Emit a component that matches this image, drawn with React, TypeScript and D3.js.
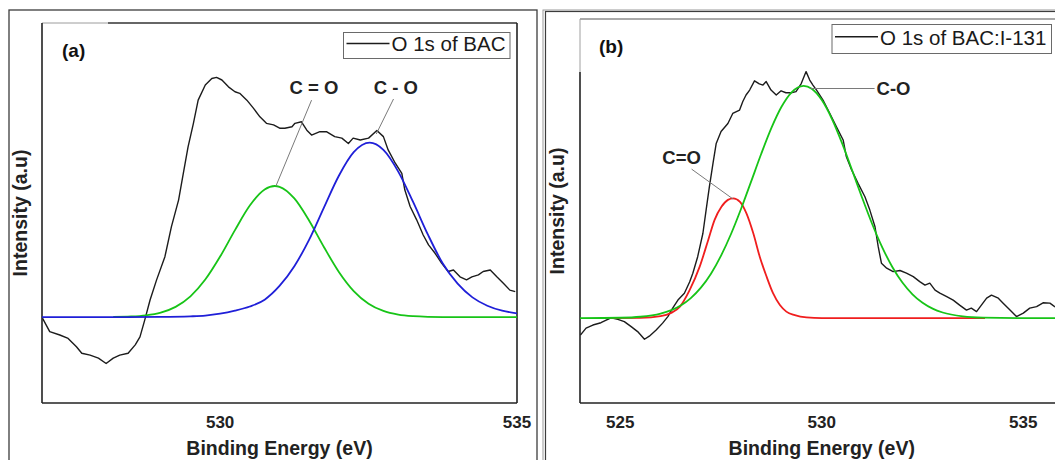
import React from 'react';
import * as d3 from 'd3';

// ---------- Panel (a): O 1s of BAC ----------
const energyA = [527.01, 527.13, 527.30, 527.44, 527.58, 527.67, 527.81, 527.95, 528.08, 528.20, 528.31, 528.45, 528.57, 528.65, 528.73, 528.82, 528.93, 529.07, 529.18, 529.30, 529.38, 529.46, 529.55, 529.63, 529.75, 529.86, 529.94, 530.03, 530.14, 530.25, 530.33, 530.45, 530.56, 530.67, 530.78, 530.90, 531.01, 531.09, 531.21, 531.26, 531.37, 531.46, 531.54, 531.68, 531.79, 531.93, 532.05, 532.16, 532.24, 532.36, 532.50, 532.64, 532.75, 532.83, 532.95, 533.06, 533.11, 533.20, 533.31, 533.42, 533.51, 533.62, 533.73, 533.84, 533.93, 534.04, 534.15, 534.24, 534.35, 534.43, 534.55, 534.66, 534.77, 534.88, 534.97];
const intensityA = [22.3, 18.8, 17.9, 17.0, 14.8, 13.1, 12.6, 11.8, 10.4, 11.8, 12.6, 13.1, 15.3, 17.4, 21.8, 27.1, 32.4, 38.5, 46.4, 53.4, 60.4, 67.4, 73.6, 79.7, 83.7, 85.4, 85.7, 85.0, 83.2, 81.9, 81.5, 79.7, 77.6, 75.3, 73.6, 73.2, 72.3, 72.3, 72.7, 73.6, 74.0, 71.8, 70.5, 71.4, 71.4, 70.1, 69.7, 68.3, 69.7, 69.2, 69.7, 71.7, 70.1, 66.6, 63.1, 60.4, 56.1, 51.7, 48.2, 44.2, 41.6, 39.4, 36.8, 34.6, 35.0, 33.2, 32.4, 33.2, 33.7, 34.6, 35.0, 33.2, 31.5, 29.7, 29.3];

// fitted C=O component (green)
const fitEnergyA_CdO = [528.2, 528.5, 528.75, 529.0, 529.25, 529.5, 529.75, 530.0, 530.25, 530.5, 530.75, 530.92, 531.0, 531.25, 531.5, 531.75, 532.0, 532.25, 532.5, 532.75, 533.0, 533.25, 533.5, 534.0, 535.0];
const fitValueA_CdO = [22.64, 22.76, 23.07, 23.79, 25.3, 28.07, 32.48, 38.53, 45.5, 51.97, 56.2, 57.1, 56.9, 53.83, 47.97, 40.99, 34.49, 29.46, 26.13, 24.22, 23.26, 22.84, 22.68, 22.6, 22.6];

// fitted C-O component (blue)
const fitEnergyA_CO = [527.0, 528.0, 529.0, 529.5, 529.75, 530.0, 530.25, 530.5, 530.75, 531.0, 531.25, 531.5, 531.75, 532.0, 532.25, 532.52, 532.75, 533.0, 533.25, 533.5, 533.75, 534.0, 534.25, 534.5, 534.75, 535.0];
const fitValueA_CO = [22.6, 22.6, 22.65, 22.8, 23.0, 23.5, 24.3, 25.4, 27.2, 30.8, 36.0, 43.0, 51.5, 59.8, 66.0, 68.5, 66.6, 60.9, 52.9, 44.3, 36.7, 31.4, 27.8, 25.6, 24.3, 23.6];

const ticksA = [530, 535];

// ---------- Panel (b): O 1s of BAC:I-131 ----------
const energyB = [524.01, 524.15, 524.32, 524.52, 524.65, 524.77, 524.94, 525.10, 525.27, 525.43, 525.60, 525.72, 525.89, 526.05, 526.18, 526.30, 526.43, 526.59, 526.72, 526.80, 526.92, 527.05, 527.13, 527.21, 527.30, 527.38, 527.50, 527.67, 527.79, 527.96, 528.04, 528.12, 528.21, 528.33, 528.45, 528.54, 528.62, 528.74, 528.87, 528.99, 529.11, 529.24, 529.36, 529.49, 529.61, 529.70, 529.78, 529.87, 530.03, 530.20, 530.36, 530.53, 530.61, 530.74, 530.90, 531.07, 531.19, 531.32, 531.40, 531.48, 531.61, 531.77, 531.94, 532.10, 532.27, 532.43, 532.56, 532.68, 532.81, 532.93, 533.10, 533.26, 533.42, 533.59, 533.71, 533.84, 533.96, 534.09, 534.21, 534.38, 534.50, 534.67, 534.83, 535.00, 535.16, 535.33, 535.49, 535.66, 535.78, 536.0];
const intensityB = [17.7, 19.5, 20.3, 20.9, 21.6, 22.2, 21.8, 21.2, 19.9, 18.6, 16.6, 17.4, 19.0, 20.8, 22.5, 24.7, 26.8, 28.6, 31.5, 33.8, 38.1, 44.2, 50.3, 56.3, 62.4, 67.6, 70.7, 72.8, 75.4, 76.3, 78.5, 80.2, 81.5, 83.9, 83.1, 82.8, 83.7, 81.5, 80.2, 81.3, 80.8, 80.8, 81.1, 83.2, 86.3, 84.1, 82.8, 81.5, 78.9, 75.4, 72.0, 68.5, 64.1, 60.7, 57.2, 53.7, 50.3, 45.9, 40.7, 36.4, 35.1, 34.2, 34.5, 33.8, 32.9, 31.6, 30.7, 31.2, 29.4, 28.6, 27.7, 26.8, 25.5, 24.2, 24.7, 23.8, 25.5, 27.3, 28.1, 27.3, 26.0, 24.2, 22.5, 23.4, 24.7, 25.1, 26.1, 26.0, 25.1, 24.6];

// fitted C=O component (red)
const fitEnergyB_CdO = [524.75, 525.5, 526.0, 526.25, 526.48, 526.72, 526.97, 527.18, 527.34, 527.51, 527.67, 527.80, 527.97, 528.13, 528.30, 528.46, 528.63, 528.79, 528.96, 529.12, 529.33, 529.62, 530.0, 534.05];
const fitValueB_CdO = [22.1, 22.15, 22.6, 23.4, 25.1, 29.4, 35.5, 42.4, 47.7, 51.1, 52.9, 53.3, 52.4, 49.4, 44.2, 38.1, 32.9, 28.6, 25.5, 23.8, 22.9, 22.3, 22.1, 22.1];

// fitted C-O component (green)
const fitEnergyB_CO = [524.0, 525.0, 525.5, 526.0, 526.25, 526.5, 526.75, 527.0, 527.25, 527.5, 527.75, 528.0, 528.25, 528.5, 528.75, 529.0, 529.25, 529.55, 529.75, 530.0, 530.25, 530.5, 530.75, 531.0, 531.25, 531.5, 531.75, 532.0, 532.25, 532.5, 532.75, 533.0, 533.5, 534.0, 535.0, 536.0];
const fitValueB_CO = [22.1, 22.2, 22.46, 23.28, 24.1, 25.4, 27.32, 30.03, 33.68, 38.38, 44.08, 50.65, 57.78, 64.96, 71.63, 77.14, 80.92, 82.6, 81.85, 78.89, 74.01, 67.74, 60.67, 53.46, 46.62, 40.54, 35.43, 31.37, 28.3, 26.09, 24.57, 23.57, 22.56, 22.22, 22.1, 22.1];

const ticksB = [525, 530, 535];

const FONT = '"Liberation Sans", Arial, Helvetica, sans-serif';
const GREEN = '#17c417';
const BLUE = '#1f1fd8';
const RED = '#f01e1e';
const DATA = '#1c1c1c';
const LEADER = '#7a7a7a';

type Series = { xs: number[]; ys: number[]; color: string; width: number; smooth: boolean };
type Note = { text: string; tx: number; ty: number; anchor: 'middle' | 'start'; from: [number, number]; to: [number, number] };

type PanelProps = {
  id: string;
  left: number;
  right: number;
  top: number;
  bottom: number;
  domain: [number, number];
  ticks: number[];
  series: Series[];
  notes: Note[];
  tag: string;
  tagX: number;
  tagY: number;
  legendText: string;
  legendBox: { x: number; y: number; w: number; h: number };
  yTitleX: number;
};

function Panel(p: PanelProps) {
  const x = d3.scaleLinear().domain(p.domain).range([p.left, p.right]);
  const y = d3.scaleLinear().domain([0, 100]).range([p.bottom, p.top]);
  const path = (s: Series) =>
    d3
      .line<number>()
      .x((d) => x(d))
      .y((_, i) => y(s.ys[i]))
      .curve(s.smooth ? d3.curveMonotoneX : d3.curveLinear)(s.xs) || '';
  const lb = p.legendBox;
  return (
    <g>
      <defs>
        <clipPath id={`clip-${p.id}`}>
          <rect x={p.left} y={p.top} width={p.right - p.left} height={p.bottom - p.top} />
        </clipPath>
      </defs>
      <g clipPath={`url(#clip-${p.id})`}>
        {p.series.map((s, i) => (
          <path key={i} d={path(s)} fill="none" stroke={s.color} strokeWidth={s.width} strokeLinejoin="round" />
        ))}
      </g>
      {p.notes.map((n, i) => (
        <g key={i}>
          <line x1={x(n.from[0])} y1={y(n.from[1])} x2={x(n.to[0])} y2={y(n.to[1])} stroke={LEADER} strokeWidth={1} />
          <text x={x(n.tx)} y={y(n.ty)} textAnchor={n.anchor} fontFamily={FONT} fontWeight="bold" fontSize={18.5} fill="#222">
            {n.text}
          </text>
        </g>
      ))}
      {/* legend */}
      <rect x={lb.x} y={lb.y} width={lb.w} height={lb.h} fill="white" stroke="#6a6a6a" strokeWidth={1} />
      <line x1={lb.x + 3} x2={lb.x + 46} y1={lb.y + lb.h * 0.42} y2={lb.y + lb.h * 0.42} stroke={DATA} strokeWidth={1.5} />
      <text x={lb.x + 48} y={lb.y + lb.h * 0.72} fontFamily={FONT} fontSize={20.5} fill="#1a1a1a">
        {p.legendText}
      </text>
      <text x={p.tagX} y={p.tagY} fontFamily={FONT} fontWeight="bold" fontSize={19} fill="#111">
        {p.tag}
      </text>
      {/* tick labels */}
      {p.ticks.map((t) => (
        <text key={t} x={x(t)} y={p.bottom + 25} textAnchor="middle" fontFamily={FONT} fontWeight="bold" fontSize={17} fill="#222">
          {t}
        </text>
      ))}
      <text
        x={(p.left + p.right) / 2}
        y={455}
        textAnchor="middle"
        fontFamily={FONT}
        fontWeight="bold"
        fontSize={19.5}
        fill="#222"
      >
        Binding Energy (eV)
      </text>
      <text
        transform={`translate(${p.yTitleX},${(p.top + p.bottom) / 2}) rotate(-90)`}
        textAnchor="middle"
        fontFamily={FONT}
        fontWeight="bold"
        fontSize={19.5}
        fill="#222"
      >
        Intensity (a.u)
      </text>
    </g>
  );
}

export default function App() {
  const A = { left: 42, right: 517, top: 23, bottom: 403 };
  const B = { left: 580, right: 1063.6, top: 19, bottom: 403 };
  return (
    <svg
      width={1055}
      height={460}
      viewBox="0 0 1055 460"
      style={{ position: 'absolute', left: 0, top: 0, background: 'white' }}
    >
      <rect x={0} y={0} width={1055} height={460} fill="white" />
      {/* outer frames */}
      <rect x={9} y={10} width={528} height={480} fill="none" stroke="#3c3c3c" strokeWidth={1.3} />
      <rect x={543} y={10} width={520} height={480} fill="none" stroke="#9a9a9a" strokeWidth={1} />
      <rect x={545.5} y={11.5} width={520} height={480} fill="none" stroke="#3c3c3c" strokeWidth={1.2} />

      {/* plot frame (a) */}
      <line x1={A.left} y1={A.top} x2={108} y2={A.top} stroke="#9c9c9c" strokeWidth={1} />
      <line x1={108} y1={A.top} x2={A.right} y2={A.top} stroke="#333" strokeWidth={1.6} />
      <line x1={A.left} y1={A.top} x2={A.left} y2={A.bottom} stroke="#222" strokeWidth={1.6} />
      <line x1={A.right} y1={A.top} x2={A.right} y2={A.bottom} stroke="#222" strokeWidth={1.6} />
      <line x1={A.left} y1={A.bottom} x2={A.right} y2={A.bottom} stroke="#222" strokeWidth={1.6} />

      {/* plot frame (b) */}
      <line x1={B.left} y1={B.top} x2={1055} y2={B.top} stroke="#555" strokeWidth={1.1} />
      <line x1={B.left} y1={B.top} x2={B.left} y2={72} stroke="#a0a0a0" strokeWidth={1} />
      <line x1={B.left} y1={72} x2={B.left} y2={B.bottom} stroke="#222" strokeWidth={1.6} />
      <line x1={B.left} y1={B.bottom} x2={1055} y2={B.bottom} stroke="#222" strokeWidth={1.6} />

      <Panel
        id="a"
        {...A}
        domain={[527, 535]}
        ticks={ticksA}
        series={[
          { xs: energyA, ys: intensityA, color: DATA, width: 1.4, smooth: false },
          { xs: fitEnergyA_CdO, ys: fitValueA_CdO, color: GREEN, width: 1.8, smooth: true },
          { xs: fitEnergyA_CO, ys: fitValueA_CO, color: BLUE, width: 1.8, smooth: true },
        ]}
        notes={[
          { text: 'C = O', tx: 531.58, ty: 81.3, anchor: 'middle', from: [531.54, 79.7], to: [530.94, 57.1] },
          { text: 'C - O', tx: 532.96, ty: 81.3, anchor: 'middle', from: [532.92, 80.0], to: [532.63, 70.8] },
        ]}
        tag="(a)"
        tagX={62}
        tagY={57}
        legendText="O 1s of BAC"
        legendBox={{ x: 343.5, y: 32.5, w: 166.5, h: 26 }}
        yTitleX={27}
      />
      <Panel
        id="b"
        {...B}
        domain={[524, 536]}
        ticks={ticksB}
        series={[
          { xs: energyB, ys: intensityB, color: DATA, width: 1.4, smooth: false },
          { xs: fitEnergyB_CdO, ys: fitValueB_CdO, color: RED, width: 1.8, smooth: true },
          { xs: fitEnergyB_CO, ys: fitValueB_CO, color: GREEN, width: 1.8, smooth: true },
        ]}
        notes={[
          { text: 'C=O', tx: 526.52, ty: 62.2, anchor: 'middle', from: [526.77, 60.9], to: [527.8, 53.1] },
          { text: 'C-O', tx: 531.36, ty: 80.2, anchor: 'start', from: [529.72, 81.9], to: [531.31, 81.9] },
        ]}
        tag="(b)"
        tagX={599}
        tagY={53}
        legendText="O 1s of BAC:I-131"
        legendBox={{ x: 832, y: 24.5, w: 219.5, h: 29 }}
        yTitleX={564}
      />
    </svg>
  );
}
